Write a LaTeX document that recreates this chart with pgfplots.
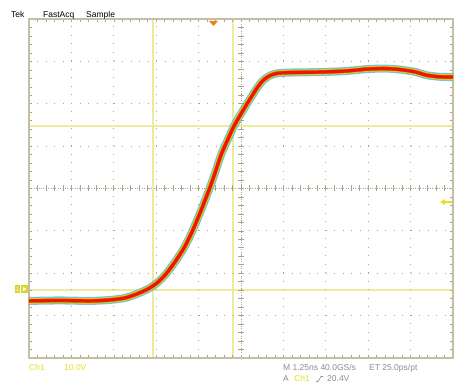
\documentclass[border=0pt]{standalone}
\usepackage{pgfplots}
\pgfplotsset{compat=1.18}
\usepackage{pgfplotstable}
\usepackage{fontspec}
\setmainfont{Liberation Sans}
\definecolor{framec}{HTML}{C6C0A2}
\definecolor{gridc}{HTML}{ABA58F}
\definecolor{cur}{HTML}{EEEA9E}
\definecolor{chy}{HTML}{E6DE1E}
\definecolor{gmk}{HTML}{D8D430}
\definecolor{txtg}{HTML}{8C8C8C}
\definecolor{trig}{HTML}{F08020}
\definecolor{tb}{HTML}{3A78F0}
\definecolor{tgr}{HTML}{3CE08C}
\definecolor{ty}{HTML}{F4E41C}
\definecolor{to}{HTML}{FF7A10}
\definecolor{tr}{HTML}{E81808}
\pgfplotstableread{
x y
0.000 -2.653
0.731 -2.642
1.439 -2.653
1.910 -2.630
2.264 -2.583
2.547 -2.488
2.807 -2.370
3.019 -2.229
3.231 -2.017
3.443 -1.733
3.656 -1.403
3.844 -1.026
4.033 -0.578
4.245 -0.035
4.387 0.366
4.528 0.790
4.693 1.167
4.835 1.474
5.024 1.804
5.212 2.111
5.377 2.370
5.519 2.549
5.684 2.665
5.849 2.718
6.156 2.736
6.863 2.748
7.453 2.771
7.972 2.818
8.396 2.830
8.750 2.807
9.104 2.752
9.387 2.672
9.693 2.636
10.000 2.630
}\trace
\begin{document}
\begin{tikzpicture}[x=1pt,y=1pt]
\useasboundingbox (0,0) rectangle (459,385);
% cursors
\draw[cur, line width=1.5pt] (153,27) -- (153,366);
\draw[cur, line width=1.5pt] (233,27) -- (233,366);
\draw[cur, line width=1.5pt] (29,259) -- (453,259);
\draw[cur, line width=1.5pt] (29,95) -- (453,95);
% center cross
\draw[gridc, line width=0.6pt, dash pattern=on 0.8pt off 1.6pt] (29,196.5) -- (453,196.5);
\draw[gridc, line width=0.6pt, dash pattern=on 0.8pt off 1.6pt] (241,27) -- (241,366);
\foreach \i in {1,...,49} {\draw[gridc, line width=0.7pt] ({29+\i*8.48},193.5) -- ++(0,6);}
\foreach \i in {1,...,39} {\draw[gridc, line width=0.7pt] (238,{27+\i*8.475}) -- ++(6,0);}
\begin{axis}[at={(29pt,27pt)}, anchor=south west, scale only axis,
  width=424pt, height=339pt, xmin=0, xmax=10, ymin=-4, ymax=4,
  xtick={0,...,10}, ytick={-4,...,4}, xticklabels={}, yticklabels={},
  minor tick num=4, major tick length=3pt, minor tick length=3pt,
  tick style={gridc, line width=0.6pt},
  grid=major, major grid style={gridc, line width=0.9pt, dash pattern=on 0.9pt off 7.58pt},
  axis line style={framec, line width=1.2pt}, clip=false,
  every axis plot/.append style={smooth, tension=0.45, line join=round, line cap=butt}]
\addplot[tb, opacity=0.55, line width=8pt] table[x=x,y=y] {\trace};
\addplot[tgr, line width=6.6pt] table[x=x,y=y] {\trace};
\addplot[ty, line width=5.4pt] table[x=x,y=y] {\trace};
\addplot[to, line width=4.4pt] table[x=x,y=y] {\trace};
\addplot[tr, line width=3.2pt] table[x=x,y=y] {\trace};
\end{axis}
% markers
\fill[gmk] (15,92) rectangle (20,100);
\fill[gmk] (21,92) rectangle (28,100);
\node[white, font=\fontsize{6}{6}\selectfont, inner sep=0pt] at (17.5,96) {1};
\fill[white] (23,94) -- (26.5,96) -- (23,98) -- cycle;
\fill[trig] (209,364) -- (218,364) -- (213.5,359) -- cycle;
\draw[chy, line width=1.2pt] (452,183) -- (444,183);
\fill[chy] (440,183) -- (445,186) -- (445,180) -- cycle;
% texts
\begin{scope}[every node/.style={anchor=base west, inner sep=0pt, font=\fontsize{8.5}{10}\selectfont}]
\node[black] at (11,367.5) {Tek};
\node[black] at (43,367.5) {FastAcq};
\node[black] at (86,367.5) {Sample};
\node[chy] at (29,14) {Ch1};
\node[chy] at (64,14) {10.0V};
\node[txtg] at (283,14) {M 1.25ns 40.0GS/s};
\node[txtg] at (369,14) {ET 25.0ps/pt};
\node[txtg] at (283,3) {A};
\node[chy] at (294,3) {Ch1};
\node[txtg] at (327,3) {20.4V};
\end{scope}
\draw[txtg, line width=0.6pt] (316,3.5) -- (318,3.5) -- (321,8.5) -- (323,8.5);
\end{tikzpicture}
\end{document}
